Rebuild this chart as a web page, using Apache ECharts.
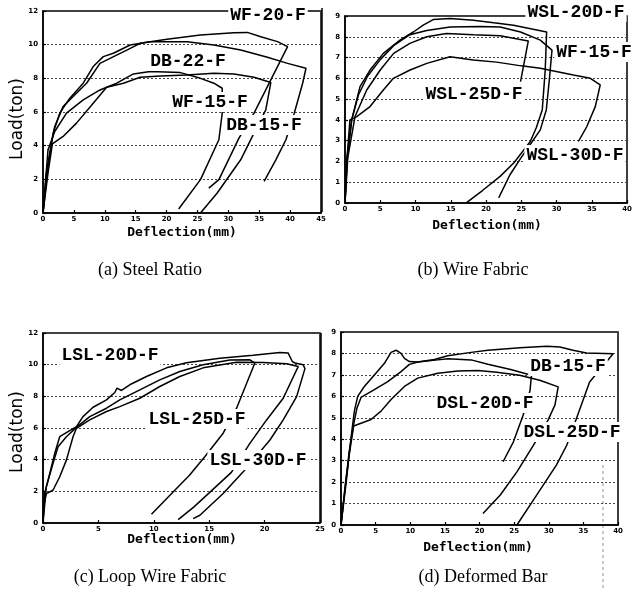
<!DOCTYPE html>
<html><head><meta charset="utf-8">
<script src="https://cdn.jsdelivr.net/npm/echarts@6/dist/echarts.min.js"></script>
<style>html,body{margin:0;padding:0;background:#fff}#c{width:642px;height:599px}</style>
</head><body><div id="c"></div>
<script>
// ---------- data (deflection mm, load ton) ----------
// (a) Steel Ratio
const a_WF20 = [[0,0],[0.54,2.37],[1.08,3.56],[1.9,5.14],[3.25,6.32],[4.88,6.92],[7.05,7.71],[9.22,8.89],[10.85,9.19],[13.56,9.68],[15.73,10.08],[20.07,10.32],[25.49,10.57],[30.91,10.71],[33.08,10.73],[35.25,10.47],[37.96,10.18],[39.59,9.88],[34.16,5.93],[31.72,4.45],[28.47,1.98],[26.84,1.48]];
const a_DB22 = [[0,0],[0.81,2.77],[1.63,4.74],[2.71,5.93],[4.34,6.82],[6.51,7.71],[8.13,8.7],[9.76,9.29],[11.39,9.49],[14.1,9.98],[17.35,10.18],[23.32,10.18],[27.66,9.98],[32,9.68],[36.33,9.25],[39.59,8.89],[42.57,8.6],[42.03,7.71],[40.67,5.93],[39.32,4.35],[37.69,3.16],[35.79,1.88]];
const a_WF15 = [[0,0],[0.81,3.75],[1.9,4.84],[3.8,5.93],[6.51,6.72],[9.22,7.31],[11.93,7.71],[14.64,8.26],[17.35,8.4],[22.23,8.34],[25.49,8.0],[27.66,7.71],[29.01,7.41],[29.01,5.93],[28.47,4.35],[25.49,1.98],[21.96,0.24]];
const a_DB15 = [[0,0],[0.81,2.37],[1.52,4.11],[3.25,4.55],[5.42,5.34],[8.13,6.52],[10.3,7.47],[13.02,7.71],[15.73,8.06],[18.98,8.14],[23.32,8.2],[27.66,8.3],[30.91,8.26],[34.16,8.06],[36.88,7.75],[36.06,6.13],[33.89,4.55],[32,3.16],[28.2,1.19],[25.49,0]];
// (b) Wire Fabric
const b_WSL20 = [[0,0],[0.24,2.08],[0.95,4.0],[2.13,5.6],[3.55,6.4],[5.44,7.2],[7.8,7.84],[9.7,8.23],[11.1,8.56],[12.5,8.83],[14.9,8.88],[18.2,8.8],[21.1,8.67],[23.9,8.56],[28.6,8.23],[28.4,6.4],[27.98,4.48],[27.13,3.62],[26.28,2.96],[24.0,1.95],[22.0,1.28],[19.5,0.6],[17.29,0.03]];
const b_WF15 = [[0,0],[0.3,2.0],[0.95,4.0],[1.9,5.2],[3.2,6.1],[5.0,6.9],[7.0,7.6],[9.2,8.1],[11.6,8.3],[14.9,8.47],[19.2,8.5],[22,8.47],[24.9,8.23],[27.7,7.84],[29.36,7.36],[28.98,5.92],[28.55,4.48],[27.7,3.52],[25.1,2.24],[23.4,1.36],[21.8,0.25]];
const b_WSL25 = [[0,0],[0.4,2.2],[1.42,4.16],[3.08,5.44],[5.0,6.4],[6.9,7.2],[9.2,7.68],[11.6,8.0],[14.4,8.16],[18.2,8.1],[22,8.05],[26,7.8],[24.9,5.84]];
const b_WSL30 = [[0,0],[0.3,2.2],[0.7,4.0],[1.66,4.16],[3.55,4.64],[5.44,5.44],[6.86,6.0],[9.23,6.4],[11.6,6.72],[14.9,7.04],[18.2,6.88],[21.5,6.78],[25,6.6],[27.7,6.48],[32.4,6.16],[34.8,6.0],[36.2,5.68],[35.5,4.64],[34.3,3.68],[33.1,2.96]];
// (c) Loop Wire Fabric
const c_LSL20 = [[0,0],[0.15,1.86],[0.61,3.13],[1.06,4.4],[1.51,5.45],[2.26,5.77],[3.02,6.08],[3.61,6.72],[4.52,7.31],[5.73,7.78],[6.48,8.24],[6.68,8.52],[7.08,8.37],[7.83,8.73],[9.34,9.25],[11.15,9.8],[12.95,10.12],[15.96,10.4],[18.97,10.6],[21.38,10.77],[22.13,10.73],[22.5,10.2],[22.74,10.1],[23.49,9.99],[23.64,9.75],[22.89,7.98],[21.68,6.51],[20.48,5.24],[18.07,3.23],[16.26,1.86],[14.16,0.49],[13.55,0.28]];
const c_LSL25 = [[0,0],[0.3,2.28],[0.9,3.76],[1.36,4.82],[2.11,5.45],[3.02,6.04],[4.22,6.72],[5.73,7.25],[6.93,7.78],[8.74,8.41],[10.54,9.04],[12.35,9.57],[14.45,10.0],[16.87,10.3],[18.67,10.31],[19.12,10.1],[17.47,7.25],[16.26,5.67],[14.6,4.18],[13.2,3.0],[11.74,1.96],[9.79,0.55]];
const c_LSL30 = [[0,0],[0.05,1.0],[0.3,1.86],[0.9,2.07],[1.51,2.92],[2.11,3.97],[2.71,5.45],[3.02,5.98],[4.22,6.51],[5.73,7.04],[6.93,7.35],[8.74,7.88],[10.54,8.62],[12.35,9.25],[14.45,9.8],[17.47,10.15],[19.87,10.14],[21.99,10.06],[23.04,9.89],[21.68,7.88],[20.18,6.51],[18.67,5.03],[17.0,3.2],[15.0,1.9],[13.6,1.0],[12.2,0.21]];
// (d) Deformed Bar
const d_DB15 = [[0,0],[0.72,1.92],[1.45,4.08],[1.93,5.31],[2.41,6.0],[3.37,6.46],[4.82,7.0],[6.27,7.54],[7.23,8.05],[7.95,8.15],[8.67,8.0],[9.16,7.77],[9.88,7.62],[11.08,7.6],[13.49,7.72],[15.42,7.89],[18.8,8.05],[21.2,8.15],[25.84,8.27],[29.7,8.33],[31.6,8.3],[33.5,8.15],[35.45,8.02],[39.3,7.99],[38.3,7.6],[35.9,6.67],[34,4.97],[32.6,3.72],[31.1,2.79],[29.2,1.86],[27.3,0.93],[25.4,0]];
const d_DSL20 = [[0,0],[0.58,1.77],[1.2,3.46],[1.83,4.69],[2.31,5.46],[2.89,5.95],[4.82,6.31],[6.75,6.69],[8.67,7.15],[9.88,7.49],[11.08,7.6],[13.98,7.7],[15.42,7.75],[18.8,7.7],[21.2,7.5],[24.5,7.25],[27.5,6.98],[27.3,6.28],[26.3,5.12],[24.9,3.88],[23.4,2.95]];
const d_DSL25 = [[0,0],[0.58,1.69],[1.2,3.31],[1.83,4.62],[2.41,4.69],[4.34,4.92],[5.78,5.31],[7.23,5.85],[9.16,6.46],[11.08,6.85],[13.98,7.08],[16.87,7.18],[19.76,7.2],[22.5,7.12],[25.8,6.98],[28.7,6.75],[31.36,6.44],[30.9,5.6],[29.9,4.89],[27.8,3.72],[25.4,2.48],[23,1.4],[20.5,0.54]];

// axis ranges per panel
const xMax = [45, 40, 25, 40];
const yMax = [12, 9, 12, 9];
const yStep = [2, 1, 2, 1];
const captions = ['(a) Steel Ratio', '(b) Wire Fabric', '(c) Loop Wire Fabric', '(d) Deformed Bar'];
const xTitle = 'Deflection(mm)';
const yTitle = 'Load(ton)';
const seriesSets = [
  [['WF-20-F', a_WF20], ['DB-22-F', a_DB22], ['WF-15-F', a_WF15], ['DB-15-F', a_DB15]],
  [['WSL-20D-F', b_WSL20], ['WF-15-F', b_WF15], ['WSL-25D-F', b_WSL25], ['WSL-30D-F', b_WSL30]],
  [['LSL-20D-F', c_LSL20], ['LSL-25D-F', c_LSL25], ['LSL-30D-F', c_LSL30]],
  [['DB-15-F', d_DB15], ['DSL-20D-F', d_DSL20], ['DSL-25D-F', d_DSL25]]
];

// ---------- layout ----------
const grids = [
  {left: 43, top: 11, width: 278, height: 202},
  {left: 345, top: 16, width: 282, height: 187},
  {left: 43, top: 333, width: 277, height: 190},
  {left: 341, top: 332, width: 277, height: 193}
];
const curveLabels = [
  [0, 'WF-20-F', 268, 15], [0, 'DB-22-F', 188, 61], [0, 'WF-15-F', 210, 102], [0, 'DB-15-F', 264, 125],
  [1, 'WSL-20D-F', 576, 12], [1, 'WF-15-F', 594, 52], [1, 'WSL-25D-F', 474, 94], [1, 'WSL-30D-F', 575, 155],
  [2, 'LSL-20D-F', 110, 355], [2, 'LSL-25D-F', 197, 419], [2, 'LSL-30D-F', 258, 460],
  [3, 'DB-15-F', 568, 366], [3, 'DSL-20D-F', 485, 403], [3, 'DSL-25D-F', 572, 432]
];
const xTitlePos = [[182, 233], [487, 226], [182, 540], [478, 548]];
const yTitlePos = [[18, 119], [18, 432]];
const captionPos = [[150, 270], [473, 270], [150, 577], [483, 577]];

const chart = echarts.init(document.getElementById('c'), null, {renderer: 'canvas'});
const tickLabel = {fontSize: 7, fontWeight: 'bold', color: '#000', fontFamily: 'DejaVu Sans'};
const option = {
  animation: false,
  backgroundColor: '#fff',
  grid: grids.map(g => Object.assign({show: true, borderColor: '#000', borderWidth: 1.5, backgroundColor: 'transparent'}, g)),
  xAxis: grids.map((g, i) => ({
    type: 'value', gridIndex: i, min: 0, max: xMax[i], interval: 5,
    axisLine: {show: true, onZero: false, lineStyle: {color: '#000', width: 1.5}},
    axisTick: {show: true, inside: true, length: 3, lineStyle: {color: '#000', width: 1.2}},
    axisLabel: Object.assign({margin: 3}, tickLabel),
    splitLine: {show: false}
  })),
  yAxis: grids.map((g, i) => ({
    type: 'value', gridIndex: i, min: 0, max: yMax[i], interval: yStep[i],
    axisLine: {show: true, onZero: false, lineStyle: {color: '#000', width: 1.5}},
    axisTick: {show: true, inside: true, length: 3, lineStyle: {color: '#000', width: 1.2}},
    axisLabel: Object.assign({margin: 5}, tickLabel),
    splitLine: {show: true, lineStyle: {color: '#444', width: 1, type: [2, 2]}}
  })),
  series: [],
  graphic: []
};
seriesSets.forEach((set, i) => {
  set.forEach(([name, data]) => {
    option.series.push({
      name, type: 'line', xAxisIndex: i, yAxisIndex: i, data,
      showSymbol: false, smooth: false, silent: true,
      lineStyle: {color: '#000', width: 1.5}
    });
  });
});
const lblFont = {fontFamily: 'Liberation Mono', fontSize: 18, fontWeight: 'bold', fill: '#000'};
curveLabels.forEach(([p, t, x, y]) => {
  option.graphic.push({type: 'text', x, y, z: 100, style: Object.assign({
    text: t, align: 'center', verticalAlign: 'middle', backgroundColor: '#fff', padding: [1, 2]
  }, lblFont)});
});
xTitlePos.forEach(([x, y]) => {
  option.graphic.push({type: 'text', x, y, z: 100, style: {text: xTitle, align: 'center', verticalAlign: 'middle',
    fontFamily: 'DejaVu Sans Mono', fontSize: 13, fontWeight: 'bold', fill: '#000'}});
});
yTitlePos.forEach(([x, y]) => {
  option.graphic.push({type: 'text', x, y, rotation: Math.PI / 2, z: 100, style: {text: yTitle, align: 'center', verticalAlign: 'middle',
    fontFamily: 'DejaVu Sans', fontSize: 17, fill: '#000'}});
});
captions.forEach((t, i) => {
  option.graphic.push({type: 'text', x: captionPos[i][0], y: captionPos[i][1], z: 100, style: {text: t, align: 'center', verticalAlign: 'middle',
    fontFamily: 'Liberation Serif', fontSize: 18, fill: '#000'}});
});
// scan edge strokes at left of panels (b) and (d)
option.graphic.push({type: 'line', shape: {x1: 322, y1: 8, x2: 322, y2: 212}, style: {stroke: '#000', lineWidth: 1.5}});
option.graphic.push({type: 'line', shape: {x1: 321, y1: 333, x2: 321, y2: 523}, style: {stroke: '#000', lineWidth: 1.5}});
option.graphic.push({type: 'line', shape: {x1: 603, y1: 465, x2: 603, y2: 590}, style: {stroke: '#777', lineWidth: 0.8, lineDash: [3, 3]}});
chart.setOption(option);
</script>
</body></html>
